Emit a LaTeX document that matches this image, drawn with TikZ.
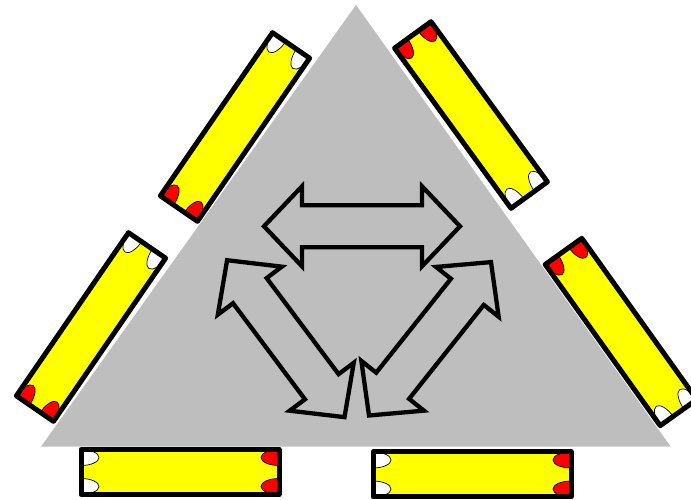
\documentclass[tikz,border=0pt]{standalone}
\definecolor{trigray}{RGB}{190,190,190}
\definecolor{baryellow}{RGB}{255,255,0}
\definecolor{capred}{RGB}{255,0,0}
\tikzset{
  barframe/.style={draw=black, line width=5pt, line join=round},
  capshape/.style={draw=black, line width=0.7pt},
  arrowshape/.style={draw=black, line width=4.3pt, fill=trigray, line join=miter},
  pics/sidebar/.style 2 args={code={
    \fill[baryellow] (-99,-22.5) rectangle (99,22.5);
    \draw[capshape,fill=#1] (-99,22.5) arc[start angle=90,end angle=-90,x radius=18,y radius=8] -- cycle;
    \draw[capshape,fill=#1] (-99,-6.5) arc[start angle=90,end angle=-90,x radius=18,y radius=8] -- cycle;
    \draw[capshape,fill=#2] (99,22.5) arc[start angle=90,end angle=270,x radius=18,y radius=8] -- cycle;
    \draw[capshape,fill=#2] (99,-6.5) arc[start angle=90,end angle=270,x radius=18,y radius=8] -- cycle;
    \draw[barframe] (-99,-22.5) rectangle (99,22.5);
  }},
  pics/dblarrow/.style={code={
    \draw[arrowshape] (-98,0) -- (-60,40) -- (-60,21) -- (60,21) -- (60,40) -- (98,0)
      -- (60,-40) -- (60,-21) -- (-60,-21) -- (-60,-40) -- cycle;
  }}
}
\begin{document}
\begin{tikzpicture}[x=1pt,y=1pt]
\useasboundingbox (0,0) rectangle (691,500);
\clip (0,0) rectangle (691,500);
% triangle
\fill[trigray] (41,53.3) -- (356,495) -- (670.7,53.3) -- cycle;
% arrows
\pic at (362,273.7) {dblarrow};
\pic[rotate=-53.2] at (285.8,161.3) {dblarrow};
\pic[rotate=51.5] at (430,161.2) {dblarrow};
% bars
\pic[rotate=55.5] at (235,373) {sidebar={capred}{white}};
\pic[rotate=55.5] at (91,173) {sidebar={capred}{white}};
\pic[rotate=-54] at (471,385) {sidebar={capred}{white}};
\pic[rotate=-54.5] at (621,168) {sidebar={capred}{white}};
\pic at (180,28) {sidebar={white}{capred}};
\pic at (472,25.5) {sidebar={white}{capred}};
\end{tikzpicture}
\end{document}
